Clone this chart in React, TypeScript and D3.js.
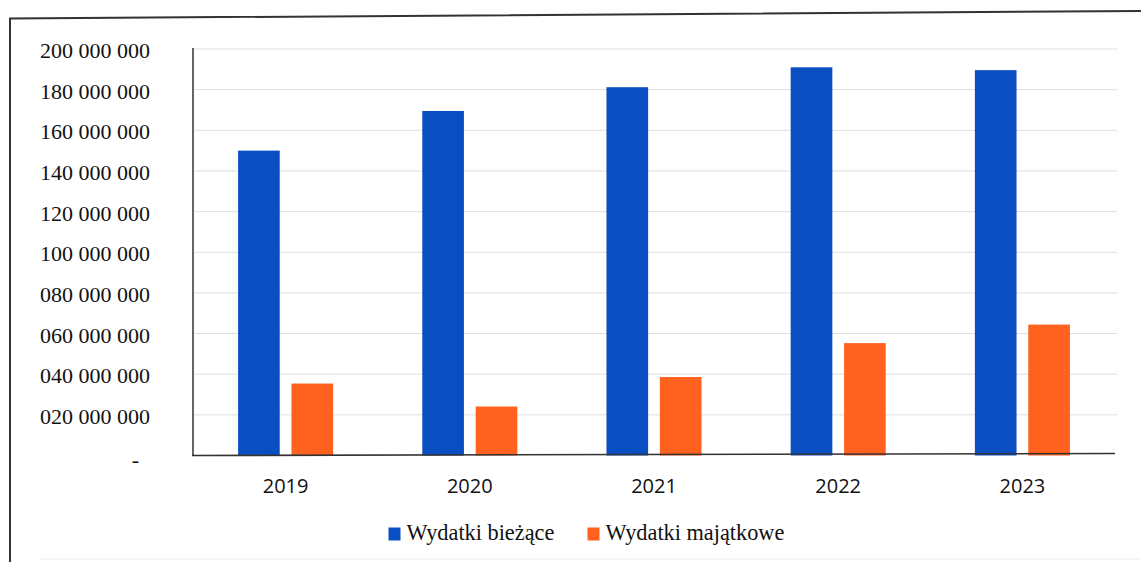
import React from "react";
import * as d3 from "d3";

const years = ["2019", "2020", "2021", "2022", "2023"];
const seriesNames = ["Wydatki bieżące", "Wydatki majątkowe"];
const biezace = [150.0e6, 169.5e6, 181.2e6, 191.0e6, 189.6e6];
const majatkowe = [35.4e6, 24.1e6, 38.6e6, 55.3e6, 64.4e6];
const yTicks = [0, 20e6, 40e6, 60e6, 80e6, 100e6, 120e6, 140e6, 160e6, 180e6, 200e6];
const yTickLabels = ["-", "020 000 000", "040 000 000", "060 000 000", "080 000 000", "100 000 000", "120 000 000", "140 000 000", "160 000 000", "180 000 000", "200 000 000"];
const colors = ["#0A4FC1", "#FF611E"];

const W = 1141;
const H = 562;

export default function App() {
  const x0 = d3.scaleBand<string>().domain(years).range([193.5, 1114.5]).paddingInner(0.484).paddingOuter(0.242);
  const x1 = d3.scaleBand<string>().domain(seriesNames).range([0, x0.bandwidth()]).paddingInner(0.22);
  const y = d3.scaleLinear().domain([0, 200e6]).range([455.5, 49]);
  const values = [biezace, majatkowe];

  return (
    <svg width={W} height={H} style={{ position: "absolute", left: 0, top: 0, background: "#fff" }}>
      <rect x={0} y={0} width={W} height={H} fill="#fff" />
      {/* outer frame */}
      <polyline points="10,562 10,18.5 1141,11" fill="none" stroke="#333" strokeWidth={2} />
      <line x1={40} x2={1141} y1={559} y2={559} stroke="#ececec" strokeWidth={1} />
      {/* gridlines */}
      {yTicks.slice(1).map((t) => (
        <line key={t} x1={194} x2={1117} y1={y(t)} y2={y(t)} stroke="#dedede" strokeWidth={1} />
      ))}
      {/* bars */}
      {years.map((yr, i) => (
        <g key={yr} transform={`translate(${x0(yr)},0)`}>
          {seriesNames.map((s, si) => (
            <rect
              key={s}
              x={x1(s)}
              y={y(values[si][i])}
              width={x1.bandwidth()}
              height={y(0) - y(values[si][i])}
              fill={colors[si]}
            />
          ))}
        </g>
      ))}
      {/* axes */}
      <line x1={193} x2={193} y1={y(200e6) - 1} y2={y(0)} stroke="#333" strokeWidth={1.5} />
      <line x1={192} x2={1115} y1={y(0)} y2={y(0) - 2} stroke="#333" strokeWidth={1.6} />
      {/* y tick labels */}
      {yTicks.map((t, i) => (
        <text
          key={t}
          x={i === 0 ? 139 : 150}
          y={y(t) + (i === 0 ? 11 : 9)}
          textAnchor="end"
          fontFamily="'Liberation Serif', 'Times New Roman', serif"
          fontSize={22}
          fill="#111"
        >
          {yTickLabels[i]}
        </text>
      ))}
      {/* x labels */}
      {years.map((yr) => (
        <text
          key={yr}
          x={(x0(yr) as number) + x0.bandwidth() / 2}
          y={493}
          textAnchor="middle"
          fontFamily="'Open Sans', 'Liberation Sans', sans-serif"
          fontSize={20}
          fill="#111"
        >
          {yr}
        </text>
      ))}
      {/* legend */}
      {seriesNames.map((s, si) => {
        const lx = si === 0 ? 388.5 : 587.5;
        return (
          <g key={s}>
            <rect x={lx} y={527.5} width={12} height={13} fill={colors[si]} />
            <text
              x={lx + 18}
              y={540}
              fontFamily="'Liberation Serif', 'Times New Roman', serif"
              fontSize={22.3}
              fill="#111"
            >
              {s}
            </text>
          </g>
        );
      })}
    </svg>
  );
}
